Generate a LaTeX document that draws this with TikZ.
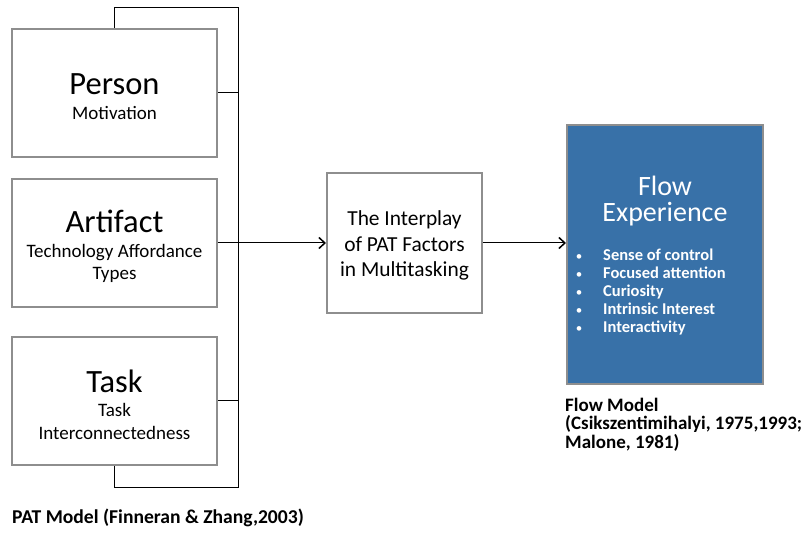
\documentclass[tikz,border=0pt]{standalone}
\usepackage{fontspec}
\setmainfont{Carlito}
\usetikzlibrary{arrows.meta}
\definecolor{boxgray}{HTML}{8E8E8E}
\definecolor{flowblue}{HTML}{3871A8}

\begin{document}
\begin{tikzpicture}[x=1pt,y=-1pt,
  pbox/.style={draw=boxgray, line width=2pt, fill=white, inner sep=0pt},
  fbox/.style={draw=boxgray, line width=2pt, fill=flowblue, inner sep=0pt},
  link/.style={draw=black, line width=1pt},
  arr/.style={link, -{Straight Barb[length=6pt,width=11pt,line width=1.5pt]}},
  head/.style={anchor=base, inner sep=0pt, font=\fontsize{32.5}{39}\selectfont},
  sub/.style={anchor=base, inner sep=0pt, font=\fontsize{19}{22}\selectfont},
  mid/.style={anchor=base, inner sep=0pt, font=\fontsize{21.4}{25}\selectfont},
  flowhead/.style={anchor=base, inner sep=0pt, text=white, font=\fontsize{28}{26}\selectfont},
  bullet/.style={anchor=base west, inner sep=0pt, text=white, font=\bfseries\fontsize{16.5}{18}\selectfont},
  dot/.style={anchor=base, inner sep=0pt, text=white, font=\fontsize{13}{18}\selectfont},
  caption/.style={anchor=base west, inner sep=0pt, align=left, font=\bfseries\fontsize{19}{18.5}\selectfont}]
\useasboundingbox (0,0) rectangle (809,537);

% PAT factor boxes
\node[pbox, minimum width=205pt, minimum height=128pt] (person) at (114.5,93) {};
\node[pbox, minimum width=205pt, minimum height=128pt] (artifact) at (114.5,243) {};
\node[pbox, minimum width=205pt, minimum height=128pt] (task) at (114.5,401) {};

\node[head] (personT) at (114.5,95) {Person};
\node[sub] (personS) at (114.5,120) {Motivation};

\node[head] (artifactT) at (114.5,233) {Artifact};
\node[sub] (artifactS1) at (114.5,258) {Technology Affordance};
\node[sub] (artifactS2) at (114.5,280) {Types};

\node[head] (taskT) at (114.5,392) {Task};
\node[sub] (taskS1) at (114.5,417) {Task};
\node[sub] (taskS2) at (114.5,439) {Interconnectedness};

% interplay box
\node[pbox, minimum width=155pt, minimum height=140pt] (inter) at (404.5,243) {};
\node[mid] (inter1) at (404.5,226) {The Interplay};
\node[mid] (inter2) at (404.5,251.5) {of PAT Factors};
\node[mid] (inter3) at (404.5,277) {in Multitasking};

% flow experience box
\node[fbox, minimum width=196pt, minimum height=259pt] (flow) at (665,254.5) {};
\node[flowhead] (flow1) at (665,196) {Flow};
\node[flowhead] (flow2) at (665,222) {Experience};
\foreach \t [count=\i] in {Sense of control, Focused attention, Curiosity, Intrinsic Interest, Interactivity} {
  \node[bullet] (fb\i) at (603,{243+18*\i}) {\t};
  \node[dot] (fd\i) at (579,{243+18*\i}) {•};
}

% bracket joining the three factors
\coordinate (bustop) at (238,8);
\coordinate (busbot) at (238,487);
\draw[link] (person.north) |- (bustop) -- (busbot) -| (task.south);
\draw[link] (person.east) -- (person.east -| bustop);
\draw[link] (task.east) -- (task.east -| bustop);

% arrows
\draw[arr] (artifact.east) -- (inter.west);
\draw[arr] (inter.east) -- (inter.east -| flow.west);

% captions
\node[caption] (flowcap) at (565,448) {Flow Model\\(Csikszentimihalyi, 1975,1993;\\Malone, 1981)};
\node[caption, font=\bfseries\fontsize{19.6}{20}\selectfont] (patcap) at (12,523) {PAT Model (Finneran \& Zhang,2003)};
\end{tikzpicture}
\end{document}
